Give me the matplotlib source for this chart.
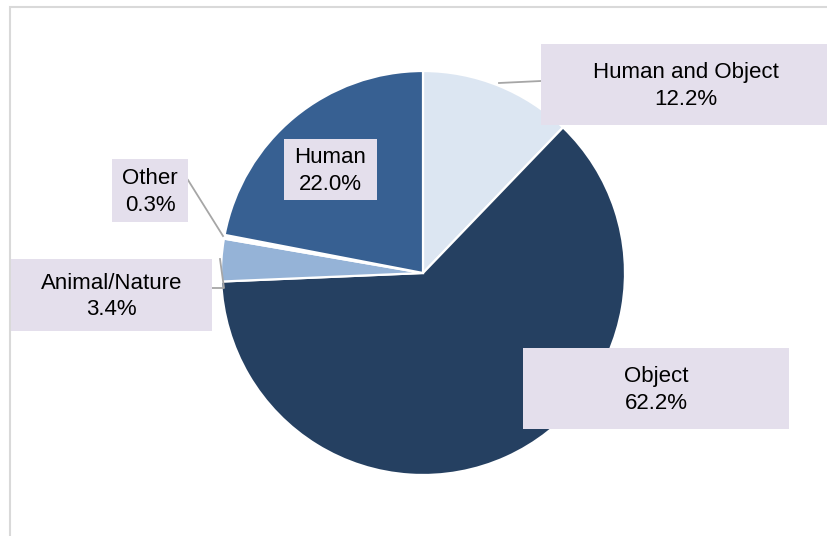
import matplotlib.pyplot as plt
from matplotlib.patches import Rectangle

plt.rcParams['font.family'] = ['Liberation Sans', 'DejaVu Sans']

# Share of each category
categories = ['Human and Object', 'Object', 'Animal/Nature', 'Other', 'Human']
shares = [12.2, 62.2, 3.4, 0.3, 22.0]
colors = ['#DCE6F2', '#254061', '#95B3D7', '#FFFFFF', '#376092']

W, H = 827, 536
fig = plt.figure(figsize=(W / 100, H / 100), dpi=100)
ax = fig.add_axes([0, 0, 1, 1])


def py(y):
    # pixel row (top-down) to axes y
    return H - y


cx, cy, r = 423, 273, 202
ax.pie(shares, colors=colors, startangle=90, counterclock=False,
       center=(cx, py(cy)), radius=r,
       wedgeprops=dict(edgecolor='white', linewidth=1.6))

ax.set_xlim(0, W)
ax.set_ylim(0, H)
ax.set_aspect('equal')
ax.axis('off')

# outer frame (left and top edges)
ax.plot([10, 10, W + 5], [py(H + 5), py(7), py(7)], color='#D9D9D9', lw=1.5,
        solid_joinstyle='miter', clip_on=False)

# label boxes: (x0, y0, x1, y1) in pixels
boxes = {
    'Human and Object': (541, 44, 830, 125),
    'Object': (523, 348, 789, 429),
    'Animal/Nature': (11, 259, 212, 331),
    'Other': (112, 159, 188, 222),
    'Human': (284, 139, 377, 200),
}

# leader lines
leaders = {
    'Human and Object': [(499, 83), (541, 81)],
    'Animal/Nature': [(212, 288), (224, 288), (220, 259)],
    'Other': [(188, 180), (223, 236)],
}
for pts in leaders.values():
    ax.plot([p[0] for p in pts], [py(p[1]) for p in pts], color='#A6A6A6', lw=1.3)

for name, val in zip(categories, shares):
    x0, y0, x1, y1 = boxes[name]
    ax.add_patch(Rectangle((x0, py(y1)), x1 - x0, y1 - y0, facecolor='#E4DFEC',
                           edgecolor='none', zorder=3))
    ax.text((x0 + x1) / 2, py((y0 + y1) / 2 + 1.5), f'{name}\n{val:.1f}%',
            ha='center', va='center', fontsize=16, color='#000000',
            linespacing=1.36, zorder=4)

fig.savefig('out.png', dpi=100)
